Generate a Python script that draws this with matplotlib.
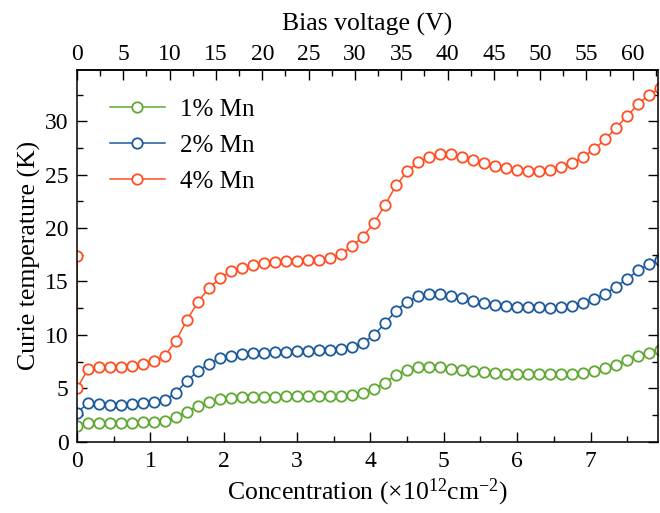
import numpy as np
import matplotlib
matplotlib.use("Agg")
import matplotlib.pyplot as plt
from matplotlib.ticker import MultipleLocator

plt.rcParams['font.family'] = ['Liberation Serif', 'DejaVu Serif']
plt.rcParams['mathtext.fontset'] = 'custom'
plt.rcParams['mathtext.rm'] = 'Liberation Serif'
plt.rcParams['mathtext.it'] = 'Liberation Serif:italic'

# concentration grid (x10^12 cm^-2), step 0.15
conc = np.round(np.arange(54) * 0.15, 2)
volt_per_conc = 7.92  # bias voltage (V) per 10^12 cm^-2
volt_ticks = [0, 5, 10, 15, 20, 25, 30, 35, 40, 45, 50, 55, 60]

mn1 = [1.50, 1.78, 1.72, 1.72, 1.72, 1.72, 1.81, 1.88, 1.94, 2.34,
       2.81, 3.35, 3.75, 3.97, 4.12, 4.19, 4.22, 4.22, 4.22, 4.25,
       4.25, 4.25, 4.28, 4.28, 4.31, 4.40, 4.60, 4.91, 5.53, 6.25,
       6.72, 6.97, 7.03, 6.97, 6.84, 6.72, 6.63, 6.53, 6.41, 6.37,
       6.34, 6.34, 6.31, 6.31, 6.31, 6.34, 6.47, 6.66, 6.88, 7.19,
       7.66, 8.03, 8.34, 8.60]
mn2 = [2.72, 3.60, 3.53, 3.47, 3.47, 3.53, 3.66, 3.72, 3.90, 4.60,
       5.70, 6.63, 7.28, 7.80, 8.06, 8.22, 8.28, 8.34, 8.38, 8.40,
       8.47, 8.53, 8.56, 8.60, 8.66, 8.85, 9.28, 10.00, 11.10, 12.28,
       13.10, 13.60, 13.84, 13.81, 13.65, 13.44, 13.20, 13.03, 12.81, 12.72,
       12.65, 12.62, 12.60, 12.56, 12.60, 12.75, 13.03, 13.35, 13.84, 14.53,
       15.25, 16.03, 16.65, 17.05]
mn4 = [5.00, 6.80, 6.97, 6.97, 6.97, 7.10, 7.28, 7.56, 8.06, 9.47,
       11.40, 13.10, 14.40, 15.30, 15.95, 16.30, 16.58, 16.75, 16.85, 16.90,
       16.93, 16.98, 17.05, 17.20, 17.60, 18.30, 19.20, 20.50, 22.20, 24.00,
       25.30, 26.15, 26.70, 26.96, 26.93, 26.65, 26.40, 26.10, 25.80, 25.60,
       25.46, 25.37, 25.37, 25.46, 25.70, 26.10, 26.65, 27.40, 28.30, 29.40,
       30.50, 31.60, 32.50, 33.10]
mn4_first = 17.4  # spurious first point of the 4% curve at zero bias

series = [("1% Mn", "#5fa832", [], mn1),
          ("2% Mn", "#1d5a9c", [], mn2),
          ("4% Mn", "#ff4f22", [mn4_first], mn4)]

fig = plt.figure(figsize=(6.6, 5.13), dpi=100)
ax = fig.add_axes([0.1167, 0.139, 0.8803, 0.7245])

for label, color, extra, vals in series:
    x = [0.0] * len(extra) + list(conc)
    y = list(extra) + list(vals)
    ax.plot(x, y, '-o', color=color, lw=1.1, ms=7.5, mfc='white',
            mec=color, mew=1.3, label=label)

ax.set_xlim(0, 7.92)
ax.set_ylim(0, 34.8)
ax.xaxis.set_major_locator(MultipleLocator(1))
ax.xaxis.set_minor_locator(MultipleLocator(0.5))
ax.yaxis.set_major_locator(MultipleLocator(5))
ax.yaxis.set_minor_locator(MultipleLocator(2.5))
ax.tick_params(which='both', direction='in', right=True, labelsize=17, width=1.0)
ax.tick_params(which='major', length=7)
ax.tick_params(which='minor', length=4)
ax.tick_params(axis='x', pad=7)
ax.tick_params(axis='y', pad=6)
for s in ax.spines.values():
    s.set_linewidth(1.1)

top = ax.secondary_xaxis('top', functions=(lambda c: c * volt_per_conc,
                                           lambda v: v / volt_per_conc))
top.set_xticks(volt_ticks)
top.xaxis.set_minor_locator(MultipleLocator(2.5))
top.tick_params(which='both', direction='in', labelsize=17, width=1.0)
top.tick_params(which='major', length=7)
top.tick_params(which='minor', length=4)
top.spines['top'].set_linewidth(1.1)
top.set_xlabel("Bias voltage (V)", fontsize=18.5, labelpad=10)

ax.set_xlabel("Concentration (\u00d710$^{12}$cm$^{-2}$)", fontsize=18.5, labelpad=3)
ax.set_ylabel("Curie temperature (K)", fontsize=18.5, labelpad=3)

ax.legend(loc='upper left', bbox_to_anchor=(0.018, 0.985), frameon=False,
          fontsize=18, handlelength=2.2, handletextpad=0.6, labelspacing=0.55)

fig.savefig("out.png", dpi=100)
